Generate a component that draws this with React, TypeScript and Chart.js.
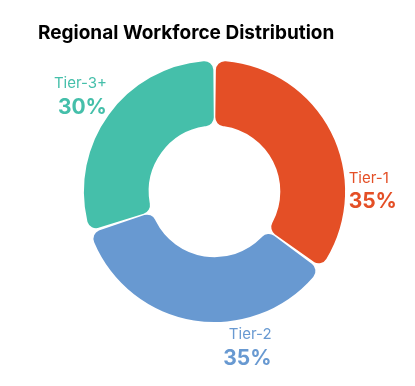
import React, { useEffect, useRef } from "react";
import { Chart, registerables } from "chart.js";

Chart.register(...registerables);

const title = "Regional Workforce Distribution";
const categories = ["Tier-1", "Tier-2", "Tier-3+"];
const values = [35, 35, 30];
const colors = ["#E44F26", "#6899D1", "#45BFAA"];
// label anchor offsets, in units of the outer radius, from the doughnut centre
const labelDx = [1.035, 0.44, -0.83];
const labelDy = [-0.01, 1.195, -0.74];
const labelAlign: CanvasTextAlign[] = ["left", "right", "right"];

const FONT = "Inter, 'Noto Sans', sans-serif";

const labelPlugin = {
  id: "sliceLabels",
  afterDatasetsDraw(chart: any) {
    const { ctx } = chart;
    const meta = chart.getDatasetMeta(0);
    const total = values.reduce((a, b) => a + b, 0);
    meta.data.forEach((arc: any, i: number) => {
      const { x, y, outerRadius } = arc.getProps(["x", "y", "outerRadius"], true);
      const ax = x + labelDx[i] * outerRadius;
      const ay = y + labelDy[i] * outerRadius;
      ctx.save();
      ctx.fillStyle = colors[i];
      ctx.textAlign = labelAlign[i];
      ctx.textBaseline = "middle";
      ctx.font = `400 15px ${FONT}`;
      ctx.fillText(categories[i], ax, ay - 12);
      ctx.font = `700 21px ${FONT}`;
      ctx.fillText(`${Math.round((values[i] / total) * 100)}%`, ax, ay + 12);
      ctx.restore();
    });
  },
};

export default function App() {
  const ref = useRef<HTMLCanvasElement>(null);
  useEffect(() => {
    document.body.style.margin = "0";
    const chart = new Chart(ref.current!, {
      type: "doughnut",
      data: {
        labels: categories,
        datasets: [
          {
            data: values,
            backgroundColor: colors,
            borderWidth: 0,
            borderRadius: 9,
            spacing: 2,
          },
        ],
      },
      options: {
        animation: false,
        responsive: false,
        cutout: "50%",
        layout: { padding: { left: 38, right: 24, bottom: 64 } },
        plugins: {
          legend: { display: false },
          tooltip: { enabled: false },
          title: {
            display: true,
            text: title,
            align: "start",
            color: "#000000",
            font: { family: FONT, size: 19, weight: "bold" },
            padding: { top: 22, bottom: 16 },
          },
        },
      },
      plugins: [labelPlugin],
    });
    return () => chart.destroy();
  }, []);
  return (
    <div style={{ width: 415, height: 386, background: "#fff" }}>
      <canvas ref={ref} width={415} height={386} style={{ display: "block" }} />
    </div>
  );
}
